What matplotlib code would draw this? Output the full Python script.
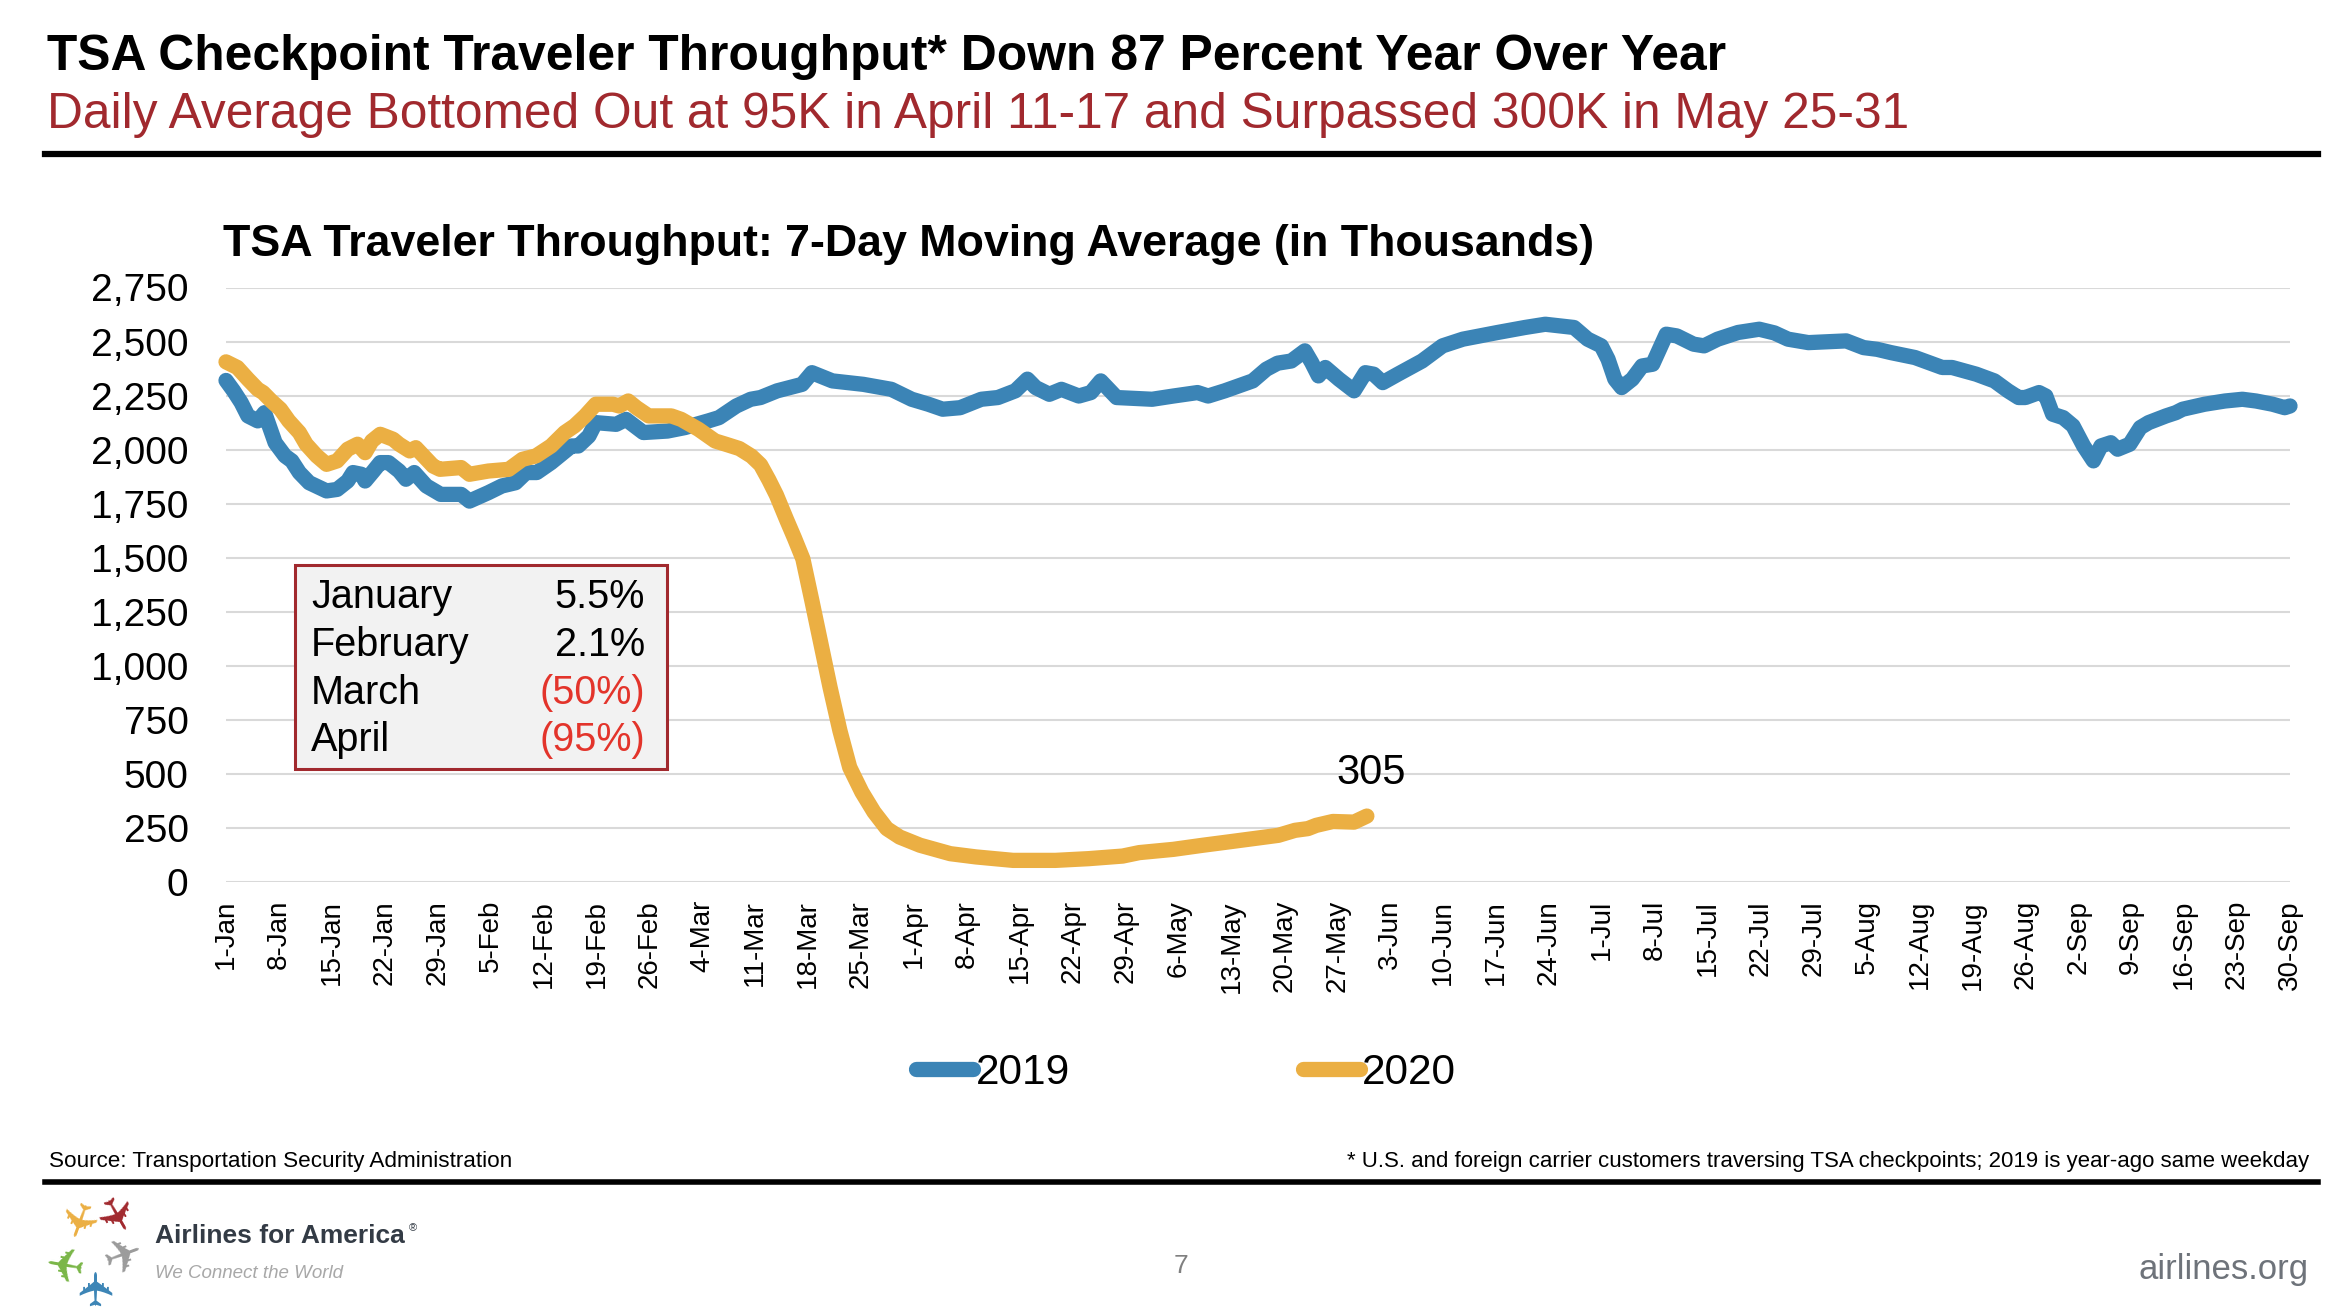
import matplotlib
matplotlib.use("Agg")
import matplotlib.pyplot as plt
from matplotlib.patches import Rectangle
from matplotlib.lines import Line2D

# ---------------- data ----------------
tick_labels = ["1-Jan", "8-Jan", "15-Jan", "22-Jan", "29-Jan", "5-Feb", "12-Feb", "19-Feb", "26-Feb",
               "4-Mar", "11-Mar", "18-Mar", "25-Mar", "1-Apr", "8-Apr", "15-Apr", "22-Apr", "29-Apr",
               "6-May", "13-May", "20-May", "27-May", "3-Jun", "10-Jun", "17-Jun", "24-Jun", "1-Jul",
               "8-Jul", "15-Jul", "22-Jul", "29-Jul", "5-Aug", "12-Aug", "19-Aug", "26-Aug", "2-Sep",
               "9-Sep", "16-Sep", "23-Sep", "30-Sep"]

# day offset from 1-Jan (x) and 7-day moving average in thousands (y)
days_2019 = [0, 1, 2, 2.9, 4.2, 5.1, 6.5, 7.8, 8.7, 9.7, 11.0, 13.3, 14.7, 16.1, 16.8, 17.9, 18.4, 19.5,
             20.4, 21.5, 22.9, 23.8, 24.9, 26.5, 28.4, 31.1, 32.2, 34.7, 36.5, 38.3, 39.7, 41.1, 43.0,
             45.7, 46.6, 48.0, 48.9, 51.6, 52.9, 55.2, 58.4, 60.7, 63.8, 65.2, 67.5, 69.4, 70.7, 72.9,
             76.2, 77.5, 80.2, 84.3, 88.0, 90.7, 92.9, 94.8, 97.1, 99.9, 102.1, 104.4, 106.0, 107.1,
             108.9, 110.5, 112.8, 114.4, 115.7, 117.8, 122.5, 125.3, 128.5, 129.9, 132.1, 135.8, 137.6,
             139.1, 140.9, 142.7, 143.6, 144.5, 145.4, 147.2, 149.2, 150.7, 151.8, 153.0, 155.0, 158.2,
             160.9, 163.6, 168.2, 171.8, 174.5, 178.3, 180.1, 181.9, 182.8, 183.7, 184.6, 186.0, 187.3,
             188.7, 190.5, 191.9, 194.1, 195.5, 197.3, 200.0, 202.8, 204.8, 206.6, 209.3, 214.3, 216.6,
             218.4, 220.2, 223.4, 227.0, 228.3, 231.5, 233.9, 235.7, 237.1, 238.0, 239.8, 240.7, 241.6,
             243.0, 244.3, 245.7, 247.0, 248.0, 249.3, 250.2, 251.8, 253.2, 254.3, 256.6, 257.9, 258.8,
             261.7, 264.4, 266.7, 268.5, 270.7, 272.3, 273.0]
tsa_2019 = [2320, 2272, 2218, 2156, 2133, 2171, 2032, 1971, 1948, 1894, 1847, 1809, 1816, 1855, 1894, 1886,
            1855, 1901, 1940, 1940, 1901, 1863, 1894, 1832, 1793, 1793, 1762, 1801, 1832, 1847, 1894, 1894,
            1940, 2017, 2017, 2063, 2125, 2117, 2140, 2079, 2086, 2102, 2133, 2148, 2202, 2233, 2241, 2272,
            2302, 2356, 2318, 2302, 2279, 2233, 2210, 2187, 2194, 2233, 2241, 2272, 2326, 2287, 2256, 2279,
            2248, 2264, 2318, 2241, 2233, 2248, 2264, 2248, 2272, 2318, 2372, 2400, 2410, 2457, 2403, 2341,
            2380, 2326, 2272, 2356, 2349, 2310, 2349, 2410, 2480, 2511, 2542, 2565, 2580, 2565, 2511, 2480,
            2418, 2326, 2287, 2326, 2387, 2395, 2534, 2526, 2488, 2480, 2511, 2542, 2557, 2540, 2511, 2495,
            2503, 2472, 2464, 2449, 2426, 2380, 2380, 2349, 2318, 2272, 2241, 2241, 2264, 2248, 2164, 2148,
            2110, 2017, 1948, 2017, 2032, 2002, 2025, 2102, 2125, 2156, 2171, 2187, 2210, 2225, 2233, 2225,
            2210, 2194, 2202]

days_2020 = [0, 1.5, 2.9, 4.2, 4.9, 6.0, 7.2, 8.3, 9.7, 10.6, 12.0, 13.3, 14.7, 16.1, 17.4, 18.4, 19.3,
             20.4, 22.1, 22.9, 24.3, 25.1, 27.4, 28.3, 31.1, 32.2, 34.7, 37.4, 39.2, 41.0, 43.0, 44.8,
             46.1, 47.5, 48.9, 51.2, 52.0, 53.2, 54.3, 55.9, 58.9, 60.2, 62.5, 64.7, 66.1, 67.9, 69.5,
             70.7, 71.8, 72.8, 74.1, 75.2, 76.3, 77.5, 78.7, 79.9, 81.2, 82.5, 84.1, 85.7, 87.4, 89.1,
             91.8, 95.8, 99.2, 104.1, 109.7, 114.1, 118.6, 120.8, 125.3, 129.2, 132.5, 136.4, 139.2,
             141.4, 143.1, 144.2, 146.4, 149.2, 150.9]
tsa_2020 = [2406, 2380, 2326, 2279, 2264, 2225, 2187, 2133, 2079, 2025, 1971, 1932, 1948, 2002, 2025, 1986,
            2040, 2071, 2048, 2025, 1994, 2009, 1924, 1909, 1917, 1886, 1901, 1909, 1955, 1971, 2017, 2079,
            2110, 2156, 2210, 2210, 2202, 2225, 2194, 2156, 2156, 2140, 2094, 2040, 2025, 2005, 1970, 1930,
            1860, 1790, 1680, 1590, 1495, 1300, 1100, 900, 700, 530, 416, 324, 247, 208, 170, 131, 116,
            100, 100, 108, 120, 136, 151, 170, 185, 203, 216, 239, 247, 262, 280, 277, 305]

box_months = ["January", "February", "March", "April"]
box_changes = ["5.5%", "2.1%", "(50%)", "(95%)"]

y_ticks = list(range(0, 2751, 250))

# ---------------- style ----------------
W, H = 2336, 1314
BLUE = "#3B84B6"
ORANGE = "#EBAF43"
DARKRED = "#A1292E"
BRIGHTRED = "#E3342B"
GRID = "#D9D9D9"
LW = 11

plt.rcParams["font.family"] = ["Liberation Sans", "DejaVu Sans"]


def fx(x):
    return x / W


def fy(y):
    return 1 - y / H


fig = plt.figure(figsize=(W / 100, H / 100), dpi=100)
fig.patch.set_facecolor("white")

# headline texts
fig.text(fx(47), fy(70), "TSA Checkpoint Traveler Throughput* Down 87 Percent Year Over Year",
         fontsize=35.8, fontweight="bold", color="black", ha="left", va="baseline")
fig.text(fx(47), fy(128), "Daily Average Bottomed Out at 95K in April 11-17 and Surpassed 300K in May 25-31",
         fontsize=35.7, color=DARKRED, ha="left", va="baseline")
fig.add_artist(Line2D([fx(45), fx(2318)], [fy(154), fy(154)], color="black", lw=4.5,
                      transform=fig.transFigure))

# chart title
fig.text(fx(223), fy(256), "TSA Traveler Throughput: 7-Day Moving Average (in Thousands)",
         fontsize=32.2, fontweight="bold", color="black", ha="left", va="baseline")

# axes
ax = fig.add_axes([fx(226), fy(882), fx(2290) - fx(226), fy(287.5) - fy(882)])
l19, = ax.plot(days_2019, tsa_2019, color=BLUE, lw=LW, solid_capstyle="round",
               solid_joinstyle="round", label="2019", zorder=3, clip_on=False)
l20, = ax.plot(days_2020, tsa_2020, color=ORANGE, lw=LW, solid_capstyle="round",
               solid_joinstyle="round", label="2020", zorder=4, clip_on=False)
ax.set_xlim(0, 273)
ax.set_ylim(0, 2750)
ax.set_yticks(y_ticks)
ax.set_yticklabels([f"{v:,}" for v in y_ticks], fontsize=28)
ax.set_xticks([7 * i for i in range(len(tick_labels))])
ax.set_xticklabels(tick_labels, rotation=90, fontsize=20)
ax.tick_params(axis="y", length=0, pad=27)
ax.tick_params(axis="x", length=0, pad=13)
ax.grid(axis="y", color=GRID, lw=1.5)
ax.set_axisbelow(True)
for s in ax.spines.values():
    s.set_visible(False)

# end label
ax.annotate(f"{tsa_2020[-1]:.0f}", xy=(days_2020[-1], tsa_2020[-1]), xytext=(4, 43),
            textcoords="offset pixels", ha="center", va="center", fontsize=30)

# legend
ax.legend(handles=[l19, l20], loc="center", bbox_to_anchor=(fx(1186), fy(1073)),
          bbox_transform=fig.transFigure, ncol=2, frameon=False, fontsize=30.5,
          handlelength=1.35, handletextpad=0.05, columnspacing=5.5)

# monthly change box
fig.add_artist(Rectangle((fx(295), fy(769)), fx(667) - fx(295), fy(565) - fy(769),
                         transform=fig.transFigure, facecolor="#F2F2F2", edgecolor=DARKRED, lw=2.2))
row_y = [597, 645, 693, 740]
for m, c, yy in zip(box_months, box_changes, row_y):
    fig.text(fx(311), fy(yy), m, fontsize=28.5, ha="left", va="center", color="black")
    fig.text(fx(645), fy(yy), c, fontsize=28.5, ha="right", va="center",
             color=BRIGHTRED if c.startswith("(") else "black")

# footer
fig.text(fx(49), fy(1161), "Source: Transportation Security Administration", fontsize=16.2,
         ha="left", va="center")
fig.text(fx(2309), fy(1161),
         "* U.S. and foreign carrier customers traversing TSA checkpoints; 2019 is year-ago same weekday",
         fontsize=16, ha="right", va="center")
fig.add_artist(Line2D([fx(45), fx(2318)], [fy(1182), fy(1182)], color="black", lw=4,
                      transform=fig.transFigure))

# logo
plane_specs = [(72, 1220, "#EBAF43", 250), (110, 1218, "#A1292E", 300), (62, 1258, "#7AB648", 170),
               (124, 1258, "#9B9B9B", 20), (98, 1286, "#3C85B6", 90)]
for px, py, col, rot in plane_specs:
    fig.text(fx(px), fy(py), "\u2708", fontsize=34, color=col, rotation=rot, ha="center", va="center",
             family=["DejaVu Sans"])
fig.text(fx(155), fy(1236), "Airlines for America", fontsize=19, fontweight="bold", color="#333B45",
         ha="left", va="center")
fig.text(fx(409), fy(1228), "\u00ae", fontsize=8, color="#333B45", ha="left", va="center")
fig.text(fx(155), fy(1273), "We Connect the World", fontsize=13.5, style="italic", color="#A8A8A8",
         ha="left", va="center")
fig.text(fx(1181), fy(1266), "7", fontsize=19, color="#808080", ha="center", va="center")
fig.text(fx(2309), fy(1269), "airlines.org", fontsize=25, color="#6E737A", ha="right", va="center")

fig.savefig("out.png", dpi=100, facecolor="white")
